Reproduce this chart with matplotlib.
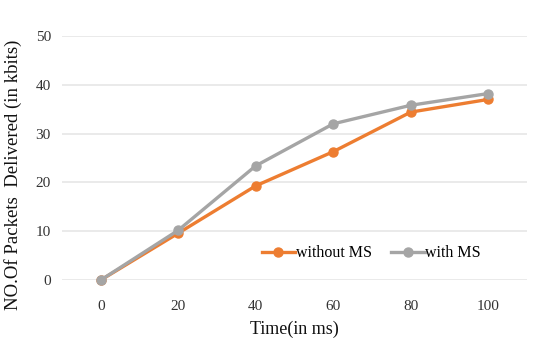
import matplotlib
matplotlib.use("Agg")
import matplotlib.pyplot as plt

# data
times = ["0", "20", "40", "60", "80", "100"]
without_ms = [0, 9.6, 19.3, 26.3, 34.4, 37.0]
with_ms = [0, 10.2, 23.4, 32.0, 35.8, 38.2]
yticks = [0, 10, 20, 30, 40, 50]

plt.rcParams['font.family'] = ['Liberation Serif', 'DejaVu Serif']

fig = plt.figure(figsize=(5.34, 3.42), dpi=100)
ax = fig.add_axes([0.116, 0.181, 0.871, 0.714])

x = range(len(times))
ax.plot(x, without_ms, color='#ED7D31', lw=2.4, marker='o', ms=6.5, label='without MS', zorder=3)
ax.plot(x, with_ms, color='#A5A5A5', lw=2.4, marker='o', ms=6.5, label='with MS', zorder=3)

ax.set_xlim(-0.5, len(times) - 0.5)
ax.set_ylim(0, 50)
ax.set_xticks(list(x))
ax.set_xticklabels(times)
ax.set_yticks(yticks)
ax.yaxis.grid(True, color='#E6E6E6', lw=1.2)
ax.set_axisbelow(True)
for s in ax.spines.values():
    s.set_visible(False)
ax.tick_params(length=0, labelsize=11, colors='#333333', pad=8)
ax.tick_params(axis='x', pad=14)
for line in ax.lines:
    line.set_clip_on(False)

ax.set_xlabel('Time(in ms)', fontsize=13, color='#111111')
ax.xaxis.set_label_coords(0.5, -0.165)
ax.set_ylabel('NO.Of Packets  Delivered (in kbits)', fontsize=13.5, color='#111111')
ax.yaxis.set_label_coords(-0.085, 0.43)

ax.legend(loc='center', bbox_to_anchor=(0.665, 0.11), ncol=2, frameon=False,
          fontsize=11.5, handlelength=2.1, handletextpad=0.05, columnspacing=1.2)

fig.savefig('out.png', dpi=100)
